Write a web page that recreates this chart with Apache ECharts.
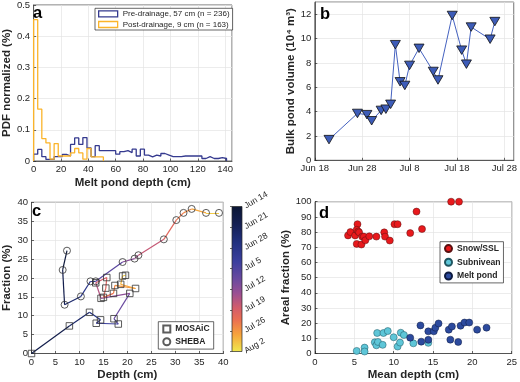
<!DOCTYPE html>
<html><head><meta charset="utf-8">
<script src="https://cdn.jsdelivr.net/npm/echarts@6/dist/echarts.min.js"></script>
<style>html,body{margin:0;padding:0;background:#fff}#c{width:520px;height:382px}</style>
</head><body><div id="c"></div>
<script>
// ---------------- DATA ----------------
// Panel a: histogram (3 cm bins), normalized PDF
const binEdges = [0,3,6,9,12,15,18,21,24,27,30,33,36,39,42,45,48,51,54,57,60,63,66,69,72,75,78,81,84,87,90,93,96,99,102,105,108,111,114,117,120,123,126,129,132,135,138,141];
const preDrainage = [0.022,0.037,0.014,0.005,0.005,0.014,0.014,0.021,0.016,0.053,0.074,0.053,0.075,0.042,0.014,0.049,0.033,0.033,0.033,0.033,0.022,0.030,0.033,0.027,0.038,0.016,0.038,0.019,0.013,0.019,0.016,0.024,0.019,0.014,0.014,0.014,0.016,0.016,0.016,0.016,0.016,0.008,0.014,0.008,0.008,0.011,0.008];
const postDrainage = [0.453,0.166,0.072,0.058,0.006,0.056,0.016,0.016,0.016,0.026,0.040,0.026,0.006,0.040,0.013,0.013,0.013];
const legendA = ['Pre-drainage, 57 cm (n = 236)','Post-drainage, 9 cm (n = 163)'];

// Panel b: bulk pond volume (10^4 m^3)
const volDates = ['Jun 21','Jun 27','Jun 29','Jun 30','Jul 2','Jul 3','Jul 4','Jul 5','Jul 6','Jul 7','Jul 8','Jul 10','Jul 13','Jul 14','Jul 17','Jul 19','Jul 20','Jul 21','Jul 25','Jul 26'];
const volValues = [1.7,3.85,3.75,3.25,4.1,4.2,4.6,9.5,6.45,6.15,7.8,9.2,7.3,6.6,11.9,9.05,7.9,10.95,9.95,11.4];
const bTickLabels = ['Jun 18','Jun 28','Jul 8','Jul 18','Jul 28'];

// Panel c: depth vs fraction trajectories, coloured by date
const mosaicDepth    = [0,7.9,12.1,14.4,13.5,18.1,17.2,20.5,14.5,13.4,15.7,15.5,15.0,17.1,17.4,21.7,18.6,19.0,19.6];
const mosaicFraction = [0,7.3,10.9,8.9,8.0,7.8,9.2,15.9,14.6,18.7,20.1,17.3,14.85,15.9,18.0,17.2,18.3,20.5,20.7];
const mosaicDates    = ['Jun 16','Jun 21','Jun 25','Jun 28','Jul 1','Jul 4','Jul 7','Jul 10','Jul 14','Jul 17','Jul 19','Jul 20','Jul 21','Jul 23','Jul 25','Jul 27','Jul 28','Jul 30','Aug 1'];
const shebaDepth     = [7.4,6.5,6.9,10.3,12.3,13.4,19.0,21.5,22.3,27.6,30.2,31.7,33.4,36.4,39.1];
const shebaFraction  = [27.2,22.1,12.9,15.1,19.1,19.1,24.2,25.1,26.0,30.2,35.3,37.2,38.25,37.2,37.2];
const shebaDates     = ['Jun 14','Jun 17','Jun 21','Jun 26','Jun 30','Jul 3','Jul 10','Jul 13','Jul 15','Jul 19','Jul 22','Jul 24','Jul 26','Jul 29','Aug 1'];
const cbTickLabels   = ['Jun 14','Jun 21','Jun 28','Jul 5','Jul 12','Jul 19','Jul 26','Aug 2'];

// Panel d: areal fraction vs mean depth
const snowDepth = [4.2,4.5,5.1,5.4,5.3,5.5,5.6,5.3,5.9,6.0,6.2,6.4,6.9,7.8,8.8,8.9,9.5,10.1,10.5,12.1,12.9,13.6,17.3,18.3];
const snowFrac  = [77.8,80,77.8,85.2,81.5,80.4,79.8,72.2,71.8,77,77,74.6,77.2,77,79.8,77,74.4,85.2,85.2,79.3,93.5,82,100,100];
const subDepth  = [5.3,6.3,6.3,7.6,7.8,7.9,8.0,8.6,8.7,9.25,10.0,10.5,10.8,10.9,11.3,12.5,14.4];
const subFrac   = [1.7,3.9,1.3,7.4,5.4,13.5,7.6,5.7,13.5,14.8,10.7,4.6,7.2,13.7,12.2,6.7,7.0];
const pondDepth = [12.1,13.4,13.5,14.4,14.4,15.1,15.3,15.7,17.0,17.2,17.4,18.2,18.5,19.0,19.6,20.6,21.8];
const pondFrac  = [10.4,18.5,7.8,14.6,9.0,14.6,17.0,19.8,15.7,9.1,17.8,7.6,18.3,20.4,20.4,15.7,17.0];

// ---------------- HELPERS ----------------
const FONT = '"Liberation Sans", Arial, Helvetica, sans-serif';
const TXT = '#262626';
const TICK = 9.5, TITLE = 11.5;
const MONTHS = {Jun:5, Jul:6, Aug:7};
function dayNum(s){const p=s.split(' ');return Date.UTC(2020,MONTHS[p[0]],+p[1])/864e5;}
const CMAP = [[0,'#0b1633'],[0.12,'#141f52'],[0.25,'#22317f'],[0.38,'#3b3f9e'],[0.5,'#6a4a9f'],[0.6,'#9b4f93'],[0.7,'#d45d6a'],[0.78,'#ea6f52'],[0.88,'#f6a23c'],[1,'#f0e94e']];
function hex2rgb(h){return [parseInt(h.substr(1,2),16),parseInt(h.substr(3,2),16),parseInt(h.substr(5,2),16)];}
function cmap(t){
  t=Math.max(0,Math.min(1,t));
  for(let i=1;i<CMAP.length;i++){
    if(t<=CMAP[i][0]){
      const a=CMAP[i-1],b=CMAP[i],f=(t-a[0])/(b[0]-a[0]);
      const ca=hex2rgb(a[1]),cb=hex2rgb(b[1]);
      return 'rgb('+ca.map((v,k)=>Math.round(v+(cb[k]-v)*f)).join(',')+')';
    }
  }
  return CMAP[CMAP.length-1][1];
}
const cbStart = dayNum(cbTickLabels[0]), cbEnd = dayNum(cbTickLabels[cbTickLabels.length-1]);
function stairs(edges, vals){
  const pts=[[edges[0],0]];
  for(let i=0;i<vals.length;i++) pts.push([edges[i],vals[i]]);
  pts.push([edges[vals.length],vals[vals.length-1]]);
  pts.push([edges[vals.length],0]);
  return pts;
}
function segments(xs, ys, ds){
  const out=[];
  for(let i=0;i<xs.length-1;i++){
    const t=((dayNum(ds[i])+dayNum(ds[i+1]))/2-cbStart)/(cbEnd-cbStart);
    out.push({coords:[[xs[i],ys[i]],[xs[i+1],ys[i+1]]], lineStyle:{color:cmap(t)}});
  }
  return out;
}
function xyPairs(xs, ys){return xs.map((x,i)=>[x,ys[i]]);}
function lbl(o){return Object.assign({color:TXT,fontSize:TICK,fontFamily:FONT,margin:3.5},o||{});}
function axis(o){
  return Object.assign({
    type:'value', nameLocation:'middle',
    axisLine:{show:true,onZero:false,lineStyle:{color:TXT,width:0.7}},
    axisTick:{show:true,inside:true,length:2.5,lineStyle:{color:TXT,width:0.7}},
    splitLine:{show:true,lineStyle:{color:'#e4e4e4',width:0.7}},
    axisLabel:lbl(),
    nameTextStyle:{color:TXT,fontSize:TITLE,fontWeight:'bold',fontFamily:FONT}
  }, o);
}
const gridBox = {show:true,borderColor:TXT,borderWidth:0.7,backgroundColor:'#fff'};

const bStart = dayNum(bTickLabels[0]);
const volData = volDates.map((d,i)=>[dayNum(d)-bStart, volValues[i]]);

const cbGradient = {type:'linear',x:0,y:0,x2:0,y2:1,colorStops:CMAP.map(s=>({offset:s[0],color:s[1]}))};

const chart = echarts.init(document.getElementById('c'), null, {renderer:'canvas'});
const legText = {color:TXT,fontFamily:FONT};
const letter = {fontSize:16.5,fontWeight:'bold',color:'#000',fontFamily:FONT};
chart.setOption({
  animation:false,
  backgroundColor:'#fff',
  title:[
    {text:'a',left:33,top:4.5,padding:0,textStyle:letter},
    {text:'b',left:320,top:5.5,padding:0,textStyle:letter},
    {text:'c',left:32,top:203,padding:0,textStyle:letter},
    {text:'d',left:319,top:204.5,padding:0,textStyle:letter}
  ],
  grid:[
    Object.assign({left:27.7,top:3.3,width:204.3,height:157.7},gridBox),
    Object.assign({left:314.8,top:2.1,width:199.5,height:158.2},gridBox),
    Object.assign({left:28.3,top:202.3,width:195,height:152.7},gridBox),
    {show:true,left:232,top:206.5,width:10,height:145,borderColor:TXT,borderWidth:0.7,backgroundColor:cbGradient},
    Object.assign({left:315,top:201.7,width:200,height:153.3},gridBox)
  ],
  xAxis:[
    axis({gridIndex:0,min:0,max:145,interval:20,name:'Melt pond depth (cm)',nameGap:16,axisLabel:lbl({showMaxLabel:false})}),
    axis({gridIndex:1,min:0,max:42,interval:10,axisLabel:lbl({showMaxLabel:false,formatter:v=>bTickLabels[Math.round(v/10)]||''})}),
    axis({gridIndex:2,min:0,max:40,interval:5,name:'Depth (cm)',nameGap:15.5}),
    {type:'value',gridIndex:3,min:0,max:1,show:false},
    axis({gridIndex:4,min:0,max:25,interval:5,name:'Mean depth (cm)',nameGap:15.5})
  ],
  yAxis:[
    axis({gridIndex:0,min:0,max:0.5,interval:0.1,name:'PDF normalized (%)',nameGap:16.5}),
    axis({gridIndex:1,min:0,max:13,interval:2,name:'Bulk pond volume (10\u2074 m\u00b3)',nameGap:17,axisLabel:lbl({showMaxLabel:false})}),
    axis({gridIndex:2,min:0,max:40,interval:5,name:'Fraction (%)',nameGap:18.5}),
    {type:'value',gridIndex:3,min:0,max:49,interval:7,inverse:true,position:'right',
      axisLine:{show:false},splitLine:{show:false},
      axisTick:{show:true,inside:true,length:2,lineStyle:{color:TXT,width:0.7}},
      axisLabel:{color:TXT,fontSize:8.5,fontFamily:FONT,margin:3,rotate:30,formatter:v=>cbTickLabels[Math.round(v/7)]||''}},
    axis({gridIndex:4,min:0,max:100,interval:10,name:'Areal fraction (%)',nameGap:20.5})
  ],
  legend:[
    {orient:'vertical',left:95,top:8.3,padding:[1.5,3,1.5,3],itemGap:2.7,itemWidth:19,itemHeight:6,
      backgroundColor:'#fff',borderColor:TXT,borderWidth:0.7,textStyle:Object.assign({fontSize:8},legText),
      data:[
        {name:legendA[0],icon:'rect',itemStyle:{color:'rgba(0,0,0,0)',borderColor:'#353a8f',borderWidth:1.3}},
        {name:legendA[1],icon:'rect',itemStyle:{color:'rgba(0,0,0,0)',borderColor:'#fbb42a',borderWidth:1.3}}
      ]},
    {orient:'vertical',left:158.3,top:321.7,padding:[2.8,4,2.8,4],itemGap:3.8,itemWidth:7,itemHeight:7,
      backgroundColor:'#fff',borderColor:TXT,borderWidth:0.7,textStyle:Object.assign({fontSize:8.6,fontWeight:'bold'},legText),
      data:['MOSAiC','SHEBA']},
    {orient:'vertical',left:440,top:241.7,padding:[2.4,3,2.4,4],itemGap:4.7,itemWidth:7,itemHeight:7,
      backgroundColor:'#fff',borderColor:TXT,borderWidth:0.7,textStyle:Object.assign({fontSize:8.6,fontWeight:'bold'},legText),
      data:['Snow/SSL','Subnivean','Melt pond']}
  ],
  series:[
    {type:'line',name:legendA[0],xAxisIndex:0,yAxisIndex:0,step:'end',showSymbol:false,symbol:'none',
      data:stairs(binEdges,preDrainage),lineStyle:{color:'#353a8f',width:1.3},itemStyle:{color:'#353a8f'}},
    {type:'line',name:legendA[1],xAxisIndex:0,yAxisIndex:0,step:'end',showSymbol:false,symbol:'none',
      data:stairs(binEdges,postDrainage),lineStyle:{color:'#fbb42a',width:1.3},itemStyle:{color:'#fbb42a'}},
    {type:'line',name:'volume',xAxisIndex:1,yAxisIndex:1,data:volData,symbol:'triangle',symbolRotate:180,symbolSize:[10,8.5],
      lineStyle:{color:'#4562c0',width:1},itemStyle:{color:'#3d5cb8',borderColor:'#111',borderWidth:0.8}},
    {type:'lines',coordinateSystem:'cartesian2d',xAxisIndex:2,yAxisIndex:2,polyline:false,silent:true,z:2,
      lineStyle:{width:1.2,opacity:1,curveness:0},data:segments(mosaicDepth,mosaicFraction,mosaicDates)},
    {type:'lines',coordinateSystem:'cartesian2d',xAxisIndex:2,yAxisIndex:2,polyline:false,silent:true,z:2,
      lineStyle:{width:1.2,opacity:1,curveness:0},data:segments(shebaDepth,shebaFraction,shebaDates)},
    {type:'scatter',name:'MOSAiC',xAxisIndex:2,yAxisIndex:2,z:3,symbol:'rect',symbolSize:6.5,data:xyPairs(mosaicDepth,mosaicFraction),
      itemStyle:{color:'rgba(255,255,255,0)',borderColor:'#333',borderWidth:1}},
    {type:'scatter',name:'SHEBA',xAxisIndex:2,yAxisIndex:2,z:3,symbol:'circle',symbolSize:7,data:xyPairs(shebaDepth,shebaFraction),
      itemStyle:{color:'rgba(255,255,255,0)',borderColor:'#333',borderWidth:1}},
    {type:'scatter',name:'Snow/SSL',xAxisIndex:4,yAxisIndex:4,symbolSize:7,data:xyPairs(snowDepth,snowFrac),
      itemStyle:{color:'#e8191c',borderColor:'#5a1010',borderWidth:0.5,opacity:1}},
    {type:'scatter',name:'Subnivean',xAxisIndex:4,yAxisIndex:4,symbolSize:7,data:xyPairs(subDepth,subFrac),
      itemStyle:{color:'#5ec6d8',borderColor:'#1f5560',borderWidth:0.5,opacity:1}},
    {type:'scatter',name:'Melt pond',xAxisIndex:4,yAxisIndex:4,symbolSize:7,data:xyPairs(pondDepth,pondFrac),
      itemStyle:{color:'#2c4a9e',borderColor:'#0d1a40',borderWidth:0.5,opacity:1}}
  ]
});
</script></body></html>
